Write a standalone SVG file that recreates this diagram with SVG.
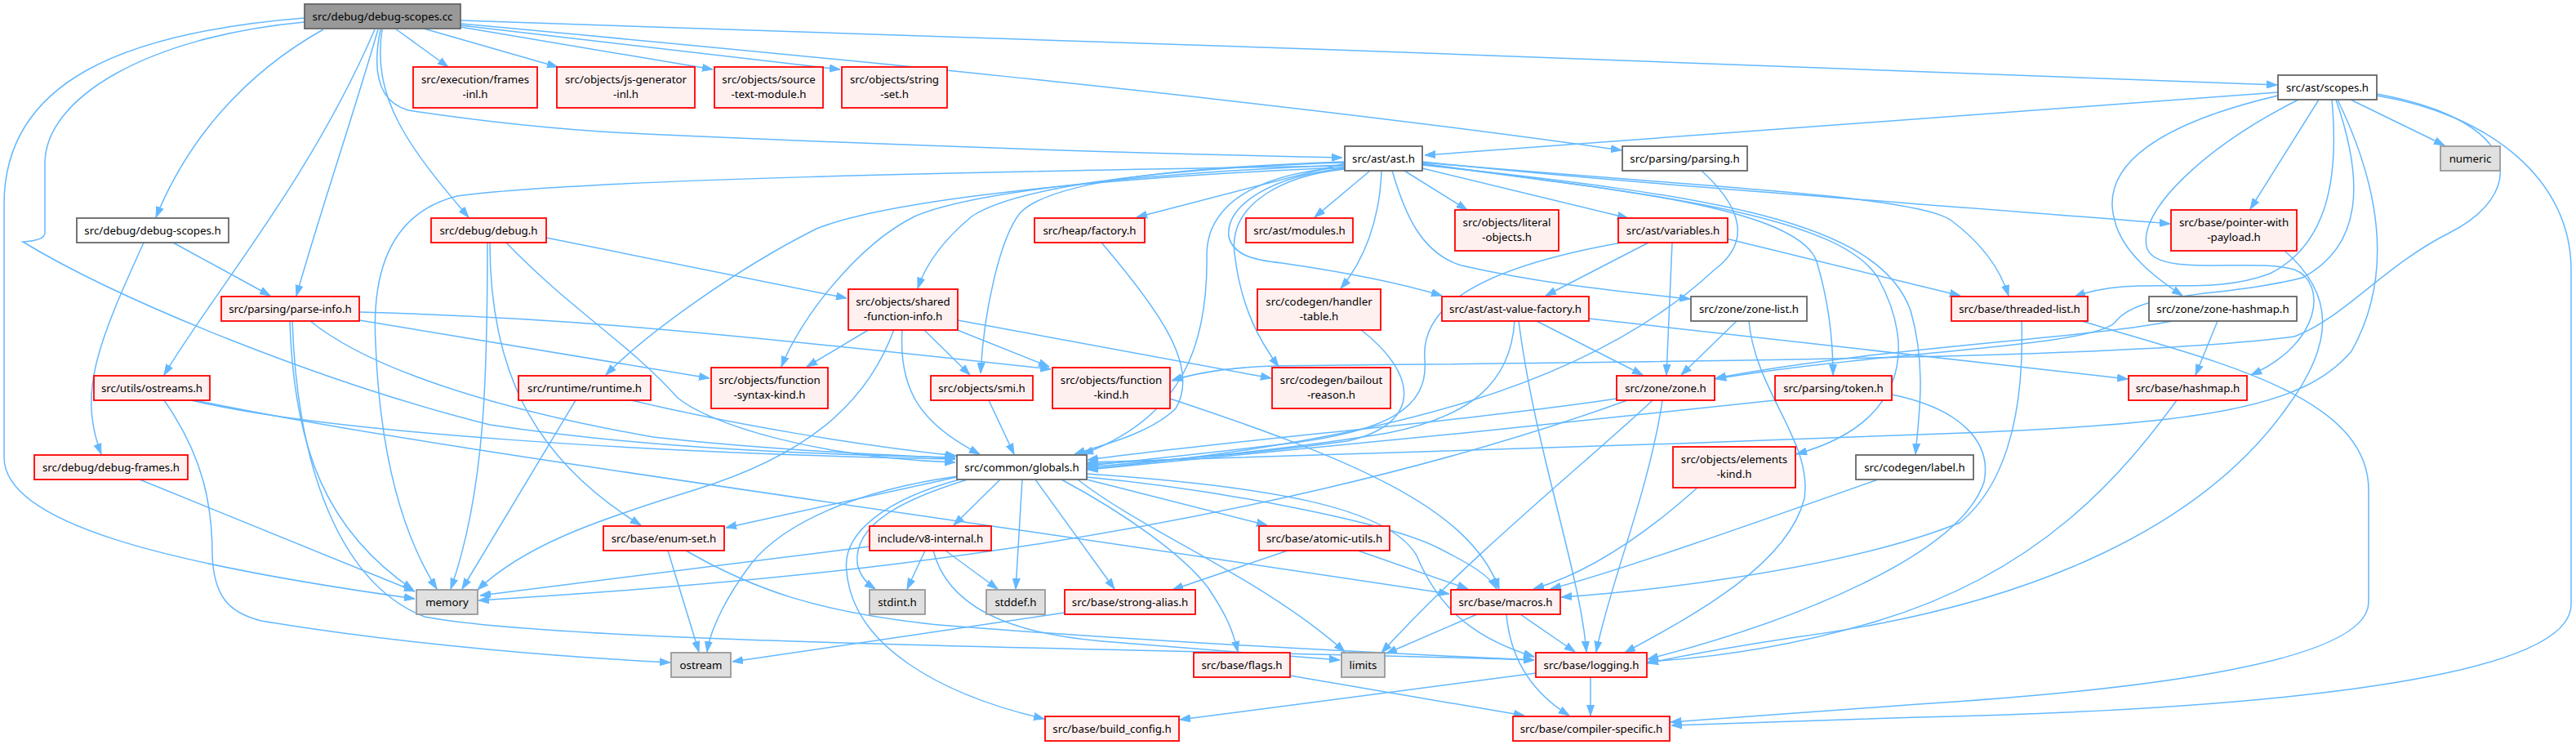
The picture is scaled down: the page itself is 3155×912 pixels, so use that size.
<svg xmlns="http://www.w3.org/2000/svg" width="3155" height="912" viewBox="0 0 3155 912">
<style>
.e{fill:none;stroke:#63b8ff;stroke-width:1.5;marker-end:url(#arr)}
.node rect{stroke-width:1.8}
.r rect{fill:#fff0f0;stroke:#ff0000}
.w rect{fill:#ffffff;stroke:#666666}
.g rect{fill:#e0e0e0;stroke:#999999}
.c rect{fill:#999999;stroke:#666666}
text{font-family:"Noto Sans","DejaVu Sans",sans-serif;font-size:13.3px;text-anchor:middle;fill:#000}
</style>
<defs>
<marker id="arr" viewBox="0 0 13 10" refX="13" refY="5" markerWidth="13" markerHeight="10" orient="auto" markerUnits="userSpaceOnUse"><path d="M0,0.5 L13,5 L0,9.5 Z" fill="#63b8ff" stroke="#63b8ff" stroke-width="1"/></marker>
</defs>
<rect width="3155" height="912" fill="#ffffff"/>
<g id="edges">
<path class="e" d="M484,35 L549,82"/>
<path class="e" d="M519,35 L683,82"/>
<path class="e" d="M564,33 L873,85"/>
<path class="e" d="M564,31 L1029,85"/>
<path class="e" d="M564,25 C1200,45 2200,80 2789,104"/>
<path class="e" d="M564,29 C900,60 1500,115 1986,184"/>
<path class="e" d="M466,36 C455,90 465,125 500,135 C600,150 700,160 790,164 C1100,178 1400,188 1644,193"/>
<path class="e" d="M396,36 C300,90 230,170 191,266"/>
<path class="e" d="M468,36 C455,120 500,180 574,266"/>
<path class="e" d="M463,36 C430,150 395,250 363,362"/>
<path class="e" d="M459,36 C380,220 260,360 201,459"/>
<path class="e" d="M373,22 C150,40 5,100 5,250 L5,560 C5,640 200,690 508,733"/>
<path class="e" d="M373,27 C180,45 55,120 55,200 L55,285 C55,292 45,295 28,296 C150,370 400,470 600,520 C800,550 1000,556 1170,560"/>
<path class="e" d="M176,297 C120,420 95,480 124,556"/>
<path class="e" d="M212,297 L331,362"/>
<path class="e" d="M597,297 C597,450 595,600 552,721"/>
<path class="e" d="M600,297 C600,450 650,560 785,643"/>
<path class="e" d="M620,297 C700,380 770,420 830,487 C870,520 1000,560 1170,566"/>
<path class="e" d="M669,291 L1037,365"/>
<path class="e" d="M440,382 C650,388 800,398 1287,452"/>
<path class="e" d="M440,392 L869,463"/>
<path class="e" d="M380,393 C450,450 600,500 800,535 C950,552 1100,557 1170,561"/>
<path class="e" d="M355,393 C360,550 400,650 506,722"/>
<path class="e" d="M358,393 C365,600 430,720 520,755 C700,790 1500,795 1879,808"/>
<path class="e" d="M201,490 C250,560 260,620 260,680 C262,730 280,750 320,760 C500,790 700,805 821,811"/>
<path class="e" d="M234,490 C400,530 800,555 1170,562"/>
<path class="e" d="M239,490 C500,545 1000,610 1775,727"/>
<path class="e" d="M171,587 L508,724"/>
<path class="e" d="M705,490 L566,721"/>
<path class="e" d="M773,490 C900,520 1050,545 1171,558"/>
<path class="e" d="M1065,403 L988,449"/>
<path class="e" d="M1131,403 L1188,459"/>
<path class="e" d="M1170,403 L1285,449"/>
<path class="e" d="M1173,392 L1557,463"/>
<path class="e" d="M1095,403 C1060,500 980,560 850,600 C720,640 640,670 585,722"/>
<path class="e" d="M1105,403 C1100,480 1130,520 1200,556"/>
<path class="e" d="M1211,490 L1242,556"/>
<path class="e" d="M1433,488 C1650,560 1800,620 1836,721"/>
<path class="e" d="M1666,403 C1740,460 1740,520 1650,540 C1500,560 1400,565 1332,568"/>
<path class="e" d="M1946,390 L2606,464"/>
<path class="e" d="M1882,393 L2012,459"/>
<path class="e" d="M1855,393 C1850,470 1800,510 1700,530 C1550,555 1400,565 1332,572"/>
<path class="e" d="M1860,393 C1880,550 1935,700 1943,798"/>
<path class="e" d="M2127,393 L2059,459"/>
<path class="e" d="M2142,393 C2150,480 2220,540 2210,610 C2190,690 2080,750 1990,799"/>
<path class="e" d="M2476,393 C2480,520 2450,600 2400,640 C2250,700 2000,725 1912,731"/>
<path class="e" d="M2550,393 C2700,440 2901,480 2901,600 L2901,737 C2901,800 2700,840 2350,862 C2200,872 2100,880 2046,884"/>
<path class="e" d="M2716,393 L2689,459"/>
<path class="e" d="M2661,393 C2550,415 2300,425 2101,463"/>
<path class="e" d="M2666,490 C2600,580 2500,700 2300,760 C2200,790 2100,805 2018,810"/>
<path class="e" d="M2797,306 C2860,360 2860,420 2800,500 C2700,640 2500,740 2200,780 C2100,795 2050,805 2018,812"/>
<path class="e" d="M2174,490 C1900,520 1600,550 1332,575"/>
<path class="e" d="M2317,483 C2400,500 2440,540 2430,590 C2400,680 2200,760 2018,807"/>
<path class="e" d="M1980,488 C1800,515 1500,540 1332,563"/>
<path class="e" d="M1993,490 C1800,560 1500,640 1100,690 C900,715 700,728 586,735"/>
<path class="e" d="M2024,490 C1950,560 1800,680 1692,799"/>
<path class="e" d="M2036,490 C2020,600 1970,720 1955,798"/>
<path class="e" d="M2019,297 L1893,362"/>
<path class="e" d="M2048,297 L2041,459"/>
<path class="e" d="M2114,292 L2401,362"/>
<path class="e" d="M1986,297 C1800,330 1740,380 1745,440 C1750,500 1700,530 1560,545 C1450,558 1380,565 1332,570"/>
<path class="e" d="M2084,209 C2140,260 2140,300 2100,330 C1950,470 1700,540 1332,574"/>
<path class="e" d="M1349,297 C1420,380 1470,450 1440,500 C1410,530 1350,545 1316,556"/>
<path class="e" d="M1678,209 L1610,266"/>
<path class="e" d="M1720,209 L1797,257"/>
<path class="e" d="M1742,206 L1994,267"/>
<path class="e" d="M1647,200 L1392,266"/>
<path class="e" d="M1692,209 C1690,270 1670,320 1642,353"/>
<path class="e" d="M1742,198 C2000,225 2300,245 2658,274"/>
<path class="e" d="M1742,199 C2100,230 2350,240 2390,270 C2430,300 2450,330 2460,362"/>
<path class="e" d="M1742,200 C1950,230 2200,250 2225,320 C2240,370 2245,420 2245,459"/>
<path class="e" d="M1742,201 C2000,235 2250,260 2300,340 C2350,430 2330,520 2200,556"/>
<path class="e" d="M1742,202 C2100,240 2300,270 2340,380 C2360,450 2350,510 2346,556"/>
<path class="e" d="M1705,209 C1720,260 1740,310 1790,325 C1900,350 2000,358 2070,366"/>
<path class="e" d="M1647,206 C1560,215 1500,250 1505,290 C1510,310 1530,318 1570,322 C1660,335 1720,348 1766,362"/>
<path class="e" d="M1647,205 C1400,215 1100,240 1000,280 C900,330 790,410 742,459"/>
<path class="e" d="M1647,202 C1450,210 1200,230 1120,265 C1050,300 980,390 957,449"/>
<path class="e" d="M1647,199 C1450,205 1250,225 1190,265 C1160,290 1135,320 1124,353"/>
<path class="e" d="M1647,198 C1450,205 1290,220 1250,260 C1225,290 1205,380 1201,457"/>
<path class="e" d="M1647,205 C1560,210 1480,240 1478,310 C1480,420 1450,510 1326,556"/>
<path class="e" d="M1647,207 C1570,215 1505,250 1512,310 C1520,380 1545,420 1566,449"/>
<path class="e" d="M1647,203 C1200,210 700,220 560,240 C480,260 455,330 460,420 C465,550 490,650 535,721"/>
<path class="e" d="M2790,113 L1745,190"/>
<path class="e" d="M2790,117 C2650,150 2570,200 2590,270 C2600,310 2640,340 2673,362"/>
<path class="e" d="M2815,122 C2700,180 2615,260 2630,305 C2645,340 2760,315 2810,330 C2850,345 2845,420 2757,459"/>
<path class="e" d="M2840,122 L2756,256"/>
<path class="e" d="M2856,122 C2865,220 2850,300 2780,335 C2700,365 2620,335 2541,363"/>
<path class="e" d="M2861,122 C2895,220 2895,300 2820,340 C2720,365 2620,355 2590,395 C2560,425 2300,430 2101,464"/>
<path class="e" d="M2863,122 C2925,250 2925,350 2880,430 C2820,500 2700,520 2350,532 C2000,545 1600,560 1332,566"/>
<path class="e" d="M2879,122 L2994,178"/>
<path class="e" d="M2911,115 C3100,150 3090,240 3000,285 C2920,325 2870,390 2810,412 C2600,440 2000,443 1560,448 C1500,450 1460,458 1435,466"/>
<path class="e" d="M2911,117 C3050,140 3149,220 3149,330 L3149,740 C3149,840 2700,870 2350,878 C2200,882 2100,886 2047,888"/>
<path class="e" d="M1172,584 C1050,610 960,630 889,646"/>
<path class="e" d="M1225,587 L1168,643"/>
<path class="e" d="M1185,587 C1110,610 1045,640 1050,690 C1053,705 1063,715 1072,721"/>
<path class="e" d="M1252,587 L1244,721"/>
<path class="e" d="M1268,587 L1365,721"/>
<path class="e" d="M1300,587 C1380,630 1450,680 1480,720 C1500,750 1510,770 1516,798"/>
<path class="e" d="M1175,587 C1090,610 1030,650 1037,700 C1045,790 1150,850 1279,880"/>
<path class="e" d="M1173,583 C1050,600 960,640 920,690 C890,730 870,770 866,798"/>
<path class="e" d="M1331,587 L1552,643"/>
<path class="e" d="M1331,584 C1500,600 1700,640 1760,670 C1800,690 1825,705 1833,721"/>
<path class="e" d="M1331,580 C1550,595 1700,620 1735,680 C1760,740 1800,780 1879,804"/>
<path class="e" d="M1320,587 C1400,650 1550,710 1647,798"/>
<path class="e" d="M818,674 L856,798"/>
<path class="e" d="M840,674 C920,720 1000,750 1150,765 C1400,785 1700,800 1879,808"/>
<path class="e" d="M1065,669 L588,729"/>
<path class="e" d="M1133,674 L1111,721"/>
<path class="e" d="M1158,674 L1222,721"/>
<path class="e" d="M1143,674 C1160,740 1230,775 1350,785 C1500,797 1580,803 1641,808"/>
<path class="e" d="M1663,674 L1798,721"/>
<path class="e" d="M1577,674 L1436,722"/>
<path class="e" d="M1304,750 L897,810"/>
<path class="e" d="M1809,752 L1698,800"/>
<path class="e" d="M1862,752 L1929,798"/>
<path class="e" d="M1845,752 C1850,810 1880,850 1922,876"/>
<path class="e" d="M1948,829 L1948,876"/>
<path class="e" d="M1881,824 L1445,881"/>
<path class="e" d="M1580,827 L1867,876"/>
<path class="e" d="M2080,596 C2020,650 1950,700 1878,721"/>
<path class="e" d="M2300,587 C2150,640 1980,700 1899,721"/>
</g>
<g id="nodes">
<g id="n-cc" class="node c"><rect x="373" y="5" width="191" height="30"/><text x="468.5" y="24.5">src/debug/debug-scopes.cc</text></g>
<g id="n-frames" class="node r"><rect x="506" y="82" width="152" height="50"/><text x="582" y="101.5">src/execution/frames</text><text x="582" y="119.5">-inl.h</text></g>
<g id="n-jsgen" class="node r"><rect x="682" y="82" width="169" height="50"/><text x="766.5" y="101.5">src/objects/js-generator</text><text x="766.5" y="119.5">-inl.h</text></g>
<g id="n-stm" class="node r"><rect x="875" y="82" width="133" height="50"/><text x="941.5" y="101.5">src/objects/source</text><text x="941.5" y="119.5">-text-module.h</text></g>
<g id="n-strset" class="node r"><rect x="1031" y="82" width="129" height="50"/><text x="1095.5" y="101.5">src/objects/string</text><text x="1095.5" y="119.5">-set.h</text></g>
<g id="n-scopes" class="node w"><rect x="2790" y="92" width="121" height="30"/><text x="2850.5" y="111.5">src/ast/scopes.h</text></g>
<g id="n-ast" class="node w"><rect x="1647" y="179" width="95" height="30"/><text x="1694.5" y="198.5">src/ast/ast.h</text></g>
<g id="n-parsing" class="node w"><rect x="1987" y="179" width="153" height="30"/><text x="2063.5" y="198.5">src/parsing/parsing.h</text></g>
<g id="n-numeric" class="node g"><rect x="2989" y="179" width="73" height="30"/><text x="3025.5" y="198.5">numeric</text></g>
<g id="n-pwp" class="node r"><rect x="2659" y="257" width="154" height="50"/><text x="2736" y="276.5">src/base/pointer-with</text><text x="2736" y="294.5">-payload.h</text></g>
<g id="n-dsh" class="node w"><rect x="94" y="267" width="186" height="30"/><text x="187" y="286.5">src/debug/debug-scopes.h</text></g>
<g id="n-debug" class="node r"><rect x="528" y="267" width="141" height="30"/><text x="598.5" y="286.5">src/debug/debug.h</text></g>
<g id="n-factory" class="node r"><rect x="1267" y="267" width="135" height="30"/><text x="1334.5" y="286.5">src/heap/factory.h</text></g>
<g id="n-modules" class="node r"><rect x="1526" y="267" width="131" height="30"/><text x="1591.5" y="286.5">src/ast/modules.h</text></g>
<g id="n-literal" class="node r"><rect x="1782" y="257" width="127" height="50"/><text x="1845.5" y="276.5">src/objects/literal</text><text x="1845.5" y="294.5">-objects.h</text></g>
<g id="n-variables" class="node r"><rect x="1982" y="267" width="134" height="30"/><text x="2049" y="286.5">src/ast/variables.h</text></g>
<g id="n-parseinfo" class="node r"><rect x="271" y="363" width="169" height="30"/><text x="355.5" y="382.5">src/parsing/parse-info.h</text></g>
<g id="n-sfi" class="node r"><rect x="1039" y="354" width="134" height="50"/><text x="1106" y="373.5">src/objects/shared</text><text x="1106" y="391.5">-function-info.h</text></g>
<g id="n-handler" class="node r"><rect x="1540" y="354" width="151" height="50"/><text x="1615.5" y="373.5">src/codegen/handler</text><text x="1615.5" y="391.5">-table.h</text></g>
<g id="n-avf" class="node r"><rect x="1766" y="363" width="180" height="30"/><text x="1856" y="382.5">src/ast/ast-value-factory.h</text></g>
<g id="n-zonelist" class="node w"><rect x="2071" y="363" width="142" height="30"/><text x="2142" y="382.5">src/zone/zone-list.h</text></g>
<g id="n-tlist" class="node r"><rect x="2390" y="363" width="167" height="30"/><text x="2473.5" y="382.5">src/base/threaded-list.h</text></g>
<g id="n-zhash" class="node w"><rect x="2632" y="363" width="181" height="30"/><text x="2722.5" y="382.5">src/zone/zone-hashmap.h</text></g>
<g id="n-ostreams" class="node r"><rect x="115" y="460" width="142" height="30"/><text x="186" y="479.5">src/utils/ostreams.h</text></g>
<g id="n-runtime" class="node r"><rect x="635" y="460" width="162" height="30"/><text x="716" y="479.5">src/runtime/runtime.h</text></g>
<g id="n-fsk" class="node r"><rect x="871" y="450" width="143" height="50"/><text x="942.5" y="469.5">src/objects/function</text><text x="942.5" y="487.5">-syntax-kind.h</text></g>
<g id="n-smi" class="node r"><rect x="1140" y="460" width="125" height="30"/><text x="1202.5" y="479.5">src/objects/smi.h</text></g>
<g id="n-fkind" class="node r"><rect x="1289" y="450" width="144" height="50"/><text x="1361" y="469.5">src/objects/function</text><text x="1361" y="487.5">-kind.h</text></g>
<g id="n-bailout" class="node r"><rect x="1558" y="450" width="145" height="50"/><text x="1630.5" y="469.5">src/codegen/bailout</text><text x="1630.5" y="487.5">-reason.h</text></g>
<g id="n-zone" class="node r"><rect x="1980" y="460" width="120" height="30"/><text x="2040" y="479.5">src/zone/zone.h</text></g>
<g id="n-token" class="node r"><rect x="2174" y="460" width="143" height="30"/><text x="2245.5" y="479.5">src/parsing/token.h</text></g>
<g id="n-hashmap" class="node r"><rect x="2607" y="460" width="145" height="30"/><text x="2679.5" y="479.5">src/base/hashmap.h</text></g>
<g id="n-dframes" class="node r"><rect x="42" y="557" width="188" height="30"/><text x="136" y="576.5">src/debug/debug-frames.h</text></g>
<g id="n-globals" class="node w"><rect x="1172" y="557" width="159" height="30"/><text x="1251.5" y="576.5">src/common/globals.h</text></g>
<g id="n-ekind" class="node r"><rect x="2049" y="547" width="150" height="50"/><text x="2124" y="566.5">src/objects/elements</text><text x="2124" y="584.5">-kind.h</text></g>
<g id="n-label" class="node w"><rect x="2273" y="557" width="144" height="30"/><text x="2345" y="576.5">src/codegen/label.h</text></g>
<g id="n-enumset" class="node r"><rect x="739" y="644" width="148" height="30"/><text x="813" y="663.5">src/base/enum-set.h</text></g>
<g id="n-v8int" class="node r"><rect x="1065" y="644" width="149" height="30"/><text x="1139.5" y="663.5">include/v8-internal.h</text></g>
<g id="n-atomic" class="node r"><rect x="1542" y="644" width="160" height="30"/><text x="1622" y="663.5">src/base/atomic-utils.h</text></g>
<g id="n-memory" class="node g"><rect x="510" y="722" width="75" height="30"/><text x="547.5" y="741.5">memory</text></g>
<g id="n-stdint" class="node g"><rect x="1065" y="722" width="68" height="30"/><text x="1099" y="741.5">stdint.h</text></g>
<g id="n-stddef" class="node g"><rect x="1208" y="722" width="72" height="30"/><text x="1244" y="741.5">stddef.h</text></g>
<g id="n-salias" class="node r"><rect x="1304" y="722" width="160" height="30"/><text x="1384" y="741.5">src/base/strong-alias.h</text></g>
<g id="n-macros" class="node r"><rect x="1777" y="722" width="134" height="30"/><text x="1844" y="741.5">src/base/macros.h</text></g>
<g id="n-ostream" class="node g"><rect x="822" y="799" width="73" height="30"/><text x="858.5" y="818.5">ostream</text></g>
<g id="n-limits" class="node g"><rect x="1643" y="799" width="53" height="30"/><text x="1669.5" y="818.5">limits</text></g>
<g id="n-flags" class="node r"><rect x="1462" y="799" width="118" height="30"/><text x="1521" y="818.5">src/base/flags.h</text></g>
<g id="n-logging" class="node r"><rect x="1881" y="799" width="136" height="30"/><text x="1949" y="818.5">src/base/logging.h</text></g>
<g id="n-build" class="node r"><rect x="1280" y="877" width="164" height="30"/><text x="1362" y="896.5">src/base/build_config.h</text></g>
<g id="n-cspec" class="node r"><rect x="1853" y="877" width="192" height="30"/><text x="1949" y="896.5">src/base/compiler-specific.h</text></g>
</g>
</svg>
